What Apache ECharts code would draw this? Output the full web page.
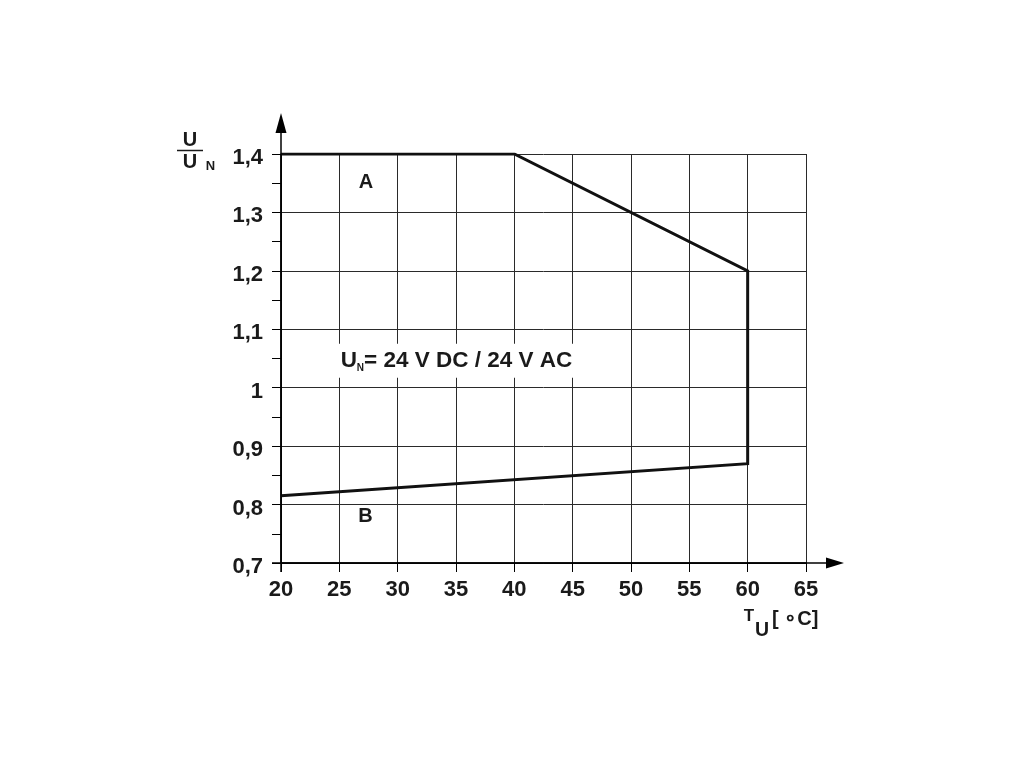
<!DOCTYPE html>
<html><head><meta charset="utf-8">
<script src="https://cdn.jsdelivr.net/npm/echarts@6/dist/echarts.min.js"></script>
<style>html,body{margin:0;padding:0;background:#fff}#c{width:1020px;height:765px}</style>
</head><body><div id="c"></div>
<script>
// ---- data ----
const tempC  = [20, 40, 60, 60, 20];
const ratioU = [1.4, 1.4, 1.2, 0.87, 0.815];
const xMin = 20, xMax = 65, xStep = 5;
const yMin = 0.7, yMax = 1.4, yStep = 0.1;
const curveLabels = [
  {t: 27.29, u: 1.351, text: 'A'},
  {t: 27.24, u: 0.779, text: 'B'}
];
const noteLabel = {t: 35.04, u: 1.046, sub: 'N', text: '= 24 V DC / 24 V AC'};

const FONT = '"Liberation Sans", Arial, Helvetica, sans-serif';
const chart = echarts.init(document.getElementById('c'), null, {renderer: 'canvas'});

const fmtY = v => {
  const r = Math.round(v * 100) / 100;
  return '{a|' + String(r).replace('.', ',') + '}';
};

chart.setOption({
  backgroundColor: '#fff',
  animation: false,
  grid: {left: 281, right: 214, top: 154, bottom: 202, containLabel: false},
  xAxis: {
    type: 'value', min: xMin, max: xMax, interval: xStep,
    axisLine: {show: true, lineStyle: {color: '#000', width: 1.5}},
    axisTick: {show: true, length: 9, lineStyle: {color: '#000', width: 1}},
    axisLabel: {margin: 16, color: '#1a1a1a', fontSize: 22, fontWeight: 'bold', fontFamily: FONT},
    splitLine: {show: true, lineStyle: {color: '#2a2a2a', width: 1}}
  },
  yAxis: {
    type: 'value', min: yMin, max: yMax, interval: yStep,
    axisLine: {show: true, lineStyle: {color: '#000', width: 1.5}},
    axisTick: {show: true, length: 9, lineStyle: {color: '#000', width: 1}},
    minorTick: {show: true, splitNumber: 2, length: 9, lineStyle: {color: '#000', width: 1}},
    axisLabel: {
      margin: 18, color: '#1a1a1a', fontSize: 22, fontWeight: 'bold', fontFamily: FONT, formatter: fmtY,
      rich: {a: {fontSize: 22, fontWeight: 'bold', fontFamily: FONT, color: '#1a1a1a', padding: [8, 0, 0, 0]}}
    },
    splitLine: {show: true, lineStyle: {color: '#2a2a2a', width: 1}}
  },
  series: [{
    type: 'line',
    data: tempC.map((t, i) => [t, ratioU[i]]),
    showSymbol: false, symbol: 'none',
    lineStyle: {color: '#111', width: 3, join: 'miter'},
    z: 5
  }]
});

// ---- annotations & axis arrows ----
const px = (t, u) => chart.convertToPixel({gridIndex: 0}, [t, u]);
const pO = px(xMin, yMin), pTop = px(xMin, yMax), pRight = px(xMax, yMin);
const g = [];
// y axis extension + arrow
g.push({type: 'line', z: 50, shape: {x1: pO[0], y1: pO[1] + 9, x2: pO[0], y2: pTop[1] - 25}, style: {stroke: '#000', lineWidth: 1.5}});
g.push({type: 'polygon', z: 50, shape: {points: [[pO[0] - 5.5, pTop[1] - 21], [pO[0] + 5.5, pTop[1] - 21], [pO[0], pTop[1] - 41]]}, style: {fill: '#000'}});
// x axis extension + arrow
g.push({type: 'line', z: 50, shape: {x1: pO[0] - 9, y1: pO[1], x2: pRight[0] + 25, y2: pO[1]}, style: {stroke: '#000', lineWidth: 1.5}});
g.push({type: 'polygon', z: 50, shape: {points: [[pRight[0] + 20, pO[1] - 5.5], [pRight[0] + 20, pO[1] + 5.5], [pRight[0] + 38, pO[1]]]}, style: {fill: '#000'}});

curveLabels.forEach(l => {
  const p = px(l.t, l.u);
  g.push({type: 'text', z: 60, x: p[0], y: p[1], style: {text: l.text, fontSize: 20, fontWeight: 'bold', fontFamily: FONT, fill: '#1a1a1a', align: 'center', verticalAlign: 'middle'}});
});

const np = px(noteLabel.t, noteLabel.u);
g.push({type: 'text', z: 60, x: np[0], y: np[1], style: {
  text: '{u|U}{n|' + noteLabel.sub + '}{u|' + noteLabel.text + '}',
  align: 'center', verticalAlign: 'middle',
  backgroundColor: '#fff', padding: [5, 13, 5, 13],
  rich: {
    u: {fontSize: 22.5, fontWeight: 'bold', fontFamily: FONT, fill: '#1a1a1a', lineHeight: 24},
    n: {fontSize: 10, fontWeight: 'bold', fontFamily: FONT, fill: '#1a1a1a', lineHeight: 24, verticalAlign: 'bottom', padding: [10, 0, 0, 0]}
  }
}});

// y axis name: U / U_N
g.push({type: 'text', z: 60, x: 190, y: 140.5, style: {text: 'U', fontSize: 20, fontWeight: 'bold', fontFamily: FONT, fill: '#1a1a1a', align: 'center', verticalAlign: 'middle'}});
g.push({type: 'line', z: 60, shape: {x1: 177, y1: 150.5, x2: 203, y2: 150.5}, style: {stroke: '#1a1a1a', lineWidth: 1.5}});
g.push({type: 'text', z: 60, x: 190, y: 162.5, style: {text: 'U', fontSize: 20, fontWeight: 'bold', fontFamily: FONT, fill: '#1a1a1a', align: 'center', verticalAlign: 'middle'}});
g.push({type: 'text', z: 60, x: 210.5, y: 166.5, style: {text: 'N', fontSize: 13, fontWeight: 'bold', fontFamily: FONT, fill: '#1a1a1a', align: 'center', verticalAlign: 'middle'}});

// x axis name: T_U [ ∘C]
g.push({type: 'text', z: 60, x: 749, y: 616, style: {text: 'T', fontSize: 17, fontWeight: 'bold', fontFamily: FONT, fill: '#1a1a1a', align: 'center', verticalAlign: 'middle'}});
g.push({type: 'text', z: 60, x: 762, y: 630.5, style: {text: 'U', fontSize: 19.5, fontWeight: 'bold', fontFamily: FONT, fill: '#1a1a1a', align: 'center', verticalAlign: 'middle'}});
g.push({type: 'text', z: 60, x: 772, y: 619, style: {text: '[ ∘C]', fontSize: 20, fontWeight: 'bold', fontFamily: FONT, fill: '#1a1a1a', align: 'left', verticalAlign: 'middle'}});

chart.setOption({graphic: g});
</script></body></html>
